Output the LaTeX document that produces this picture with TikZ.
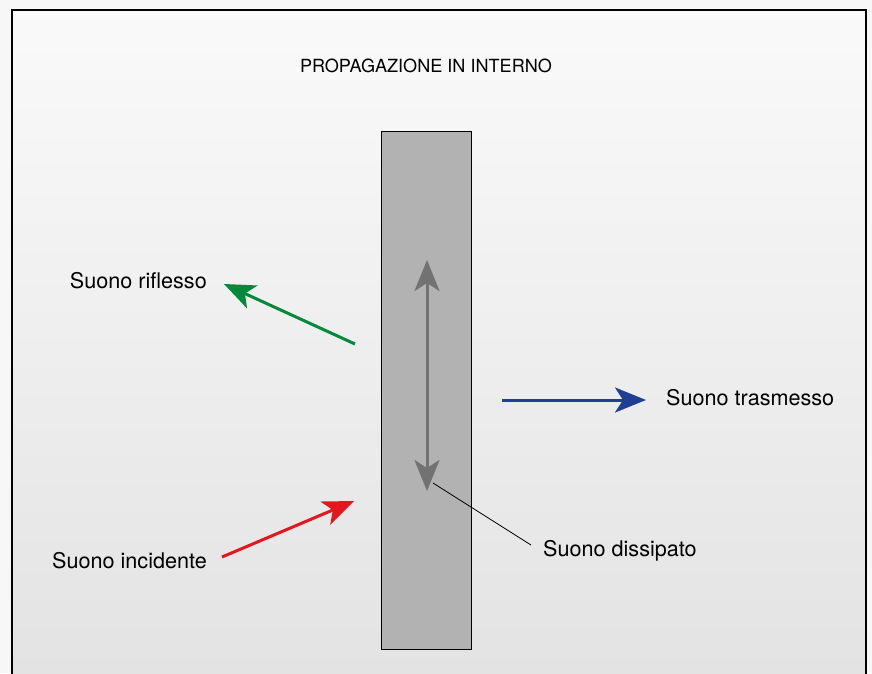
\documentclass[tikz,border=0pt]{standalone}
\usepackage{fontspec}
\setmainfont{TeX Gyre Heros}
\usetikzlibrary{positioning, arrows.meta}
\definecolor{reflgreen}{RGB}{0,138,58}
\definecolor{incred}{RGB}{228,22,30}
\definecolor{trasblue}{RGB}{30,63,147}
\definecolor{dissgray}{RGB}{114,114,114}
\definecolor{wallgray}{RGB}{178,178,178}
\tikzset{
    >={Stealth[length=31pt, width=25pt, inset=8pt]}, % big filled heads
    label/.style={font=\fontsize{21.6}{26}\selectfont, inner sep=0pt}, % text beside the arrows
    wave/.style={->, line width=3pt}, % the coloured sound arrows
}

\begin{document}
\begin{tikzpicture}[
    x=1pt, y=-1pt,
    wall/.style={draw, line width=1pt, fill=wallgray, minimum width=90pt, minimum height=518pt, inner sep=0pt},
]
    \useasboundingbox (0,0) rectangle (872,673);
    \fill[black!3] (0,0) rectangle (872,673);
    \clip (0,0) rectangle (872,673);
    \shade[top color=black!2, bottom color=black!11] (12,10) rectangle (866,673);
    \draw[line width=1.6pt] (12,690) -- (12,10) -- (866,10) -- (866,690);

    \node[font=\fontsize{18.1}{22}\selectfont, inner sep=0pt] (title) at (426,66) {PROPAGAZIONE IN INTERNO};
    \node[wall] (wall) at (426,390) {};

    % end points of the arrows
    \coordinate (reflStart) at (355,344);
    \coordinate (reflTip) at (224,284);
    \coordinate (incStart) at (222,557);
    \coordinate (incTip) at (354,501);
    \coordinate (trasStart) at (502,400);
    \coordinate (trasTip) at (646,400);
    \coordinate (dissTop) at (427,260);
    \coordinate (dissBot) at (427,491);
    \coordinate (dissFoot) at (433,483);
    \coordinate (dissEnd) at (531,545);

    \node[label, left=17pt of reflTip, yshift=3pt] (refl) {Suono riflesso};
    \node[label, left=15pt of incStart, yshift=-4pt] (inc) {Suono incidente};
    \node[label, right=20pt of trasTip, yshift=2pt] (tras) {Suono trasmesso};
    \node[label, right=12pt of dissEnd, yshift=-6pt] (diss) {Suono dissipato};

    \draw[wave, reflgreen] (reflStart) -- (reflTip);
    \draw[wave, incred] (incStart) -- (incTip);
    \draw[wave, trasblue] (trasStart) -- (trasTip);
    \draw[<->, dissgray, line width=3pt] (dissTop) -- (dissBot);
    \draw[line width=0.8pt] (dissFoot) -- (dissEnd);
\end{tikzpicture}
\end{document}
